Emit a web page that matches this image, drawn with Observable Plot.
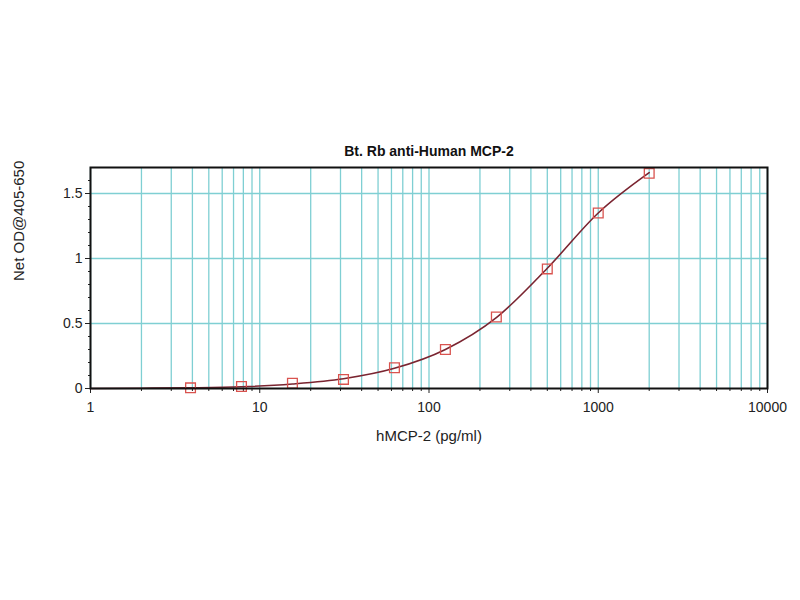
<!DOCTYPE html>
<html>
<head>
<meta charset="utf-8">
<script src="https://cdn.jsdelivr.net/npm/d3@7"></script>
<script src="https://cdn.jsdelivr.net/npm/@observablehq/plot@0.6"></script>
<style>
  html, body { margin: 0; padding: 0; background: #fff; }
  #chart svg { display: block; }
</style>
</head>
<body>
<div id="chart"></div>
<script>
// Standards (pg/ml) and measured net OD
const conc = [3.9, 7.8, 15.6, 31.25, 62.5, 125, 250, 500, 1000, 2000];
const od   = [0.005, 0.015, 0.04, 0.07, 0.16, 0.30, 0.55, 0.92, 1.35, 1.655];

// Fitted curve
const fitX = [1, 2, 3.9, 7.8, 15.6, 31.25, 62.5, 125, 250, 500, 1000, 2000];
const fitY = [0.0, 0.002, 0.005, 0.013, 0.035, 0.075, 0.155, 0.30, 0.545, 0.925, 1.35, 1.66];

const xMajor = [1, 10, 100, 1000, 10000];
const xMinorMult = [2, 3, 4, 5, 6, 7, 8, 9];
const yMajor = [0, 0.5, 1, 1.5];
const yGrid = [0.5, 1, 1.5];
const yMinor = [0.1, 0.2, 0.3, 0.4, 0.6, 0.7, 0.8, 0.9, 1.1, 1.2, 1.3, 1.4, 1.6];

const titleText = "Bt. Rb anti-Human MCP-2";
const xLabel = "hMCP-2 (pg/ml)";
const yLabel = "Net OD@405-650";

const points = conc.map((c, i) => ({x: c, y: od[i]}));
const fit = fitX.map((c, i) => ({x: c, y: fitY[i]}));
const xMinor = xMajor.slice(0, -1).flatMap(d => xMinorMult.map(m => m * d));

const grid = "#7fcfd3";
const font = "Liberation Sans, Arial, sans-serif";

const chart = Plot.plot({
  width: 800,
  height: 600,
  marginLeft: 90,
  marginRight: 33,
  marginTop: 167,
  marginBottom: 212,
  style: {fontFamily: font, fontSize: "14px", color: "#222", background: "#fff"},
  x: {type: "log", domain: [1, 10000]},
  y: {domain: [0, 1.7]},
  marks: [
    Plot.gridX(xMinor, {stroke: grid, strokeOpacity: 1, strokeWidth: 1.3}),
    Plot.gridX(xMajor, {stroke: grid, strokeOpacity: 1, strokeWidth: 1.3}),
    Plot.gridY(yGrid, {stroke: grid, strokeOpacity: 1, strokeWidth: 1.6}),
    Plot.axisX(xMajor, {tickSize: 5, tickPadding: 9, tickFormat: d => String(d), label: null, fontSize: 14, stroke: "#222"}),
    Plot.axisX(xMinor, {tickSize: 3, tickFormat: () => "", label: null, stroke: "#222"}),
    Plot.axisY(yMajor, {tickSize: 5, tickPadding: 3, tickFormat: d => String(d), label: null, fontSize: 14, stroke: "#222"}),
    Plot.axisY(yMinor, {tickSize: 2, tickFormat: () => "", label: null, stroke: "#222"}),
    Plot.line(fit, {x: "x", y: "y", stroke: "#7a2430", strokeWidth: 1.6, curve: "monotone-x"}),
    Plot.dot(points, {x: "x", y: "y", symbol: "square", r: 5.5, stroke: "#d9534f", strokeWidth: 1.3, fill: "none"}),
    Plot.frame({stroke: "#111", strokeWidth: 2}),
    Plot.text([titleText], {frameAnchor: "top", dy: -21, text: d => d, fontWeight: "bold", fontSize: 14, fill: "#111"}),
    Plot.text([xLabel], {frameAnchor: "bottom", dy: 52, text: d => d, fontSize: 15, fill: "#222"}),
    Plot.text([yLabel], {frameAnchor: "left", dx: -71, dy: 3, rotate: -90, text: d => d, fontSize: 15, fill: "#222"})
  ]
});
document.getElementById("chart").appendChild(chart);
</script>
</body>
</html>
